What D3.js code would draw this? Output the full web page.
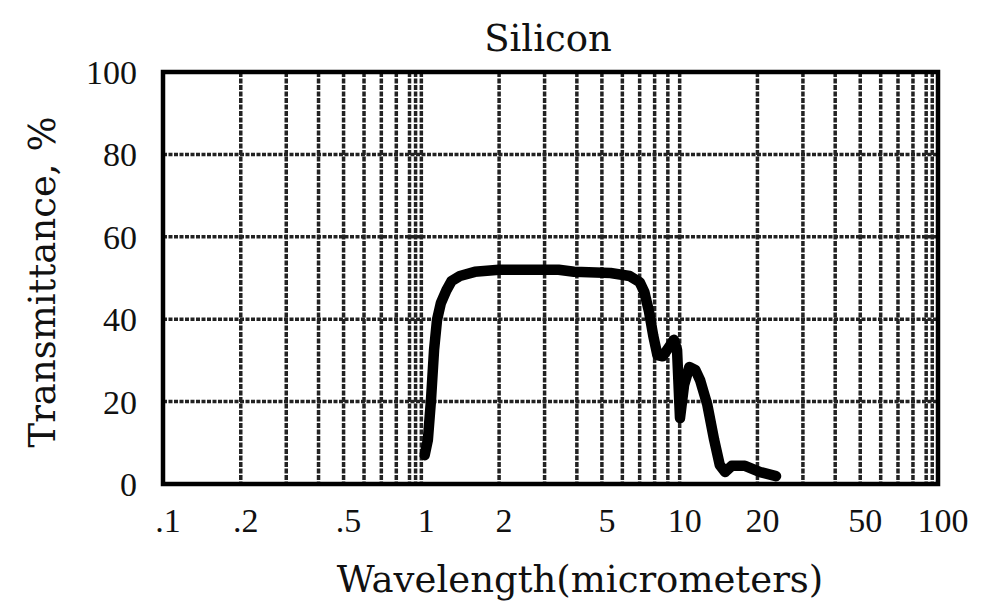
<!DOCTYPE html>
<html>
<head>
<meta charset="utf-8">
<script src="https://cdn.jsdelivr.net/npm/d3@7"></script>
<style>
    body { margin: 0; background: #fff; }
    .tick-label { font-family: "Liberation Serif", serif; font-size: 34px; fill: #111; }
    .axis-title { font-family: "DejaVu Serif", serif; font-size: 37px; fill: #111; }
</style>
</head>
<body>
<div id="chart-area" style="width: 983px; height: 608px;"></div>
<script>
// wavelength in micrometers
const wavelength = [1.03, 1.06, 1.09, 1.12, 1.15, 1.19, 1.25, 1.31, 1.41, 1.61, 2.0, 3.4, 3.9, 5.4, 6.4,
    7.0, 7.3, 7.6, 7.9, 8.2, 8.6, 9.2, 9.5, 9.77, 10.03, 10.4, 10.9, 11.5, 12.0, 12.8, 13.6, 14.3, 15.0,
    15.9, 17.9, 20.5, 23.6];
// transmittance in %
const transmittance = [7, 10.7, 20.4, 32.5, 39.8, 43.9, 47, 49.3, 50.5, 51.5, 52, 52, 51.5, 51.2, 50.5,
    49, 46.6, 42, 36, 31.3, 31, 33.7, 35, 32.5, 16, 24, 28.4, 27.7, 25.2, 19.2, 10.7, 4.6, 2.9,
    4.4, 4.4, 2.9, 1.9];

const xTickValues = [0.1, 0.2, 0.5, 1, 2, 5, 10, 20, 50, 100];
const xTickLabels = [".1", ".2", ".5", "1", "2", "5", "10", "20", "50", "100"];
const yTickValues = [0, 20, 40, 60, 80, 100];
const xGridValues = [0.2, 0.3, 0.4, 0.5, 0.6, 0.7, 0.8, 0.9, 0.95, 1, 2, 3, 4, 5, 6, 7, 8, 9, 10,
    20, 30, 40, 50, 60, 70, 80, 90, 95];
const yGridValues = [20, 40, 60, 80];

class TransmittanceVis {
    constructor(parentElement) {
        this.parentElement = parentElement;
        this.data = wavelength.map((w, i) => ({w: w, t: transmittance[i]}));
        this.initVis();
    }

    initVis() {
        let vis = this;

        vis.margin = {top: 72, right: 45, bottom: 124, left: 163};
        vis.width = 983 - vis.margin.left - vis.margin.right;
        vis.height = 608 - vis.margin.top - vis.margin.bottom;

        vis.svg = d3.select("#" + vis.parentElement).append("svg")
            .attr("width", 983)
            .attr("height", 608);

        vis.g = vis.svg.append("g")
            .attr("transform", `translate(${vis.margin.left}, ${vis.margin.top})`);

        vis.x = d3.scaleLog().domain([0.1, 100]).range([0, vis.width]);
        vis.y = d3.scaleLinear().domain([0, 100]).range([vis.height, 0]);

        // grid, dotted like the scanned graph paper
        vis.g.selectAll("line.vgrid")
            .data(xGridValues)
            .enter()
            .append("line")
            .attr("class", "vgrid")
            .attr("x1", d => vis.x(d))
            .attr("x2", d => vis.x(d))
            .attr("y1", 0)
            .attr("y2", vis.height)
            .attr("stroke", "#222")
            .attr("stroke-width", 3.5)
            .attr("stroke-dasharray", "5,1.5");

        vis.g.selectAll("line.hgrid")
            .data(yGridValues)
            .enter()
            .append("line")
            .attr("class", "hgrid")
            .attr("x1", 0)
            .attr("x2", vis.width)
            .attr("y1", d => vis.y(d))
            .attr("y2", d => vis.y(d))
            .attr("stroke", "#222")
            .attr("stroke-width", 3.5)
            .attr("stroke-dasharray", "4,1.5");

        // frame
        vis.g.append("rect")
            .attr("width", vis.width)
            .attr("height", vis.height)
            .attr("fill", "none")
            .attr("stroke", "#000")
            .attr("stroke-width", 4.5);

        // curve
        vis.line = d3.line()
            .x(d => vis.x(d.w))
            .y(d => vis.y(d.t));

        vis.g.append("path")
            .datum(vis.data)
            .attr("d", vis.line)
            .attr("fill", "none")
            .attr("stroke", "#000")
            .attr("stroke-width", 10.5)
            .attr("stroke-linejoin", "round")
            .attr("stroke-linecap", "round");

        // tick labels
        vis.g.selectAll("text.x-tick")
            .data(xTickValues)
            .enter()
            .append("text")
            .attr("class", "tick-label x-tick")
            .attr("x", d => vis.x(d) + 5)
            .attr("y", vis.height + 48)
            .attr("text-anchor", "middle")
            .text((d, i) => xTickLabels[i]);

        vis.g.selectAll("text.y-tick")
            .data(yTickValues)
            .enter()
            .append("text")
            .attr("class", "tick-label y-tick")
            .attr("x", -26)
            .attr("y", d => vis.y(d))
            .attr("dy", "0.35em")
            .attr("text-anchor", "end")
            .text(d => d);

        // titles
        vis.svg.append("text")
            .attr("class", "axis-title")
            .attr("x", 548)
            .attr("y", 51)
            .attr("text-anchor", "middle")
            .text("Silicon");

        vis.svg.append("text")
            .attr("class", "axis-title")
            .attr("x", 580)
            .attr("y", 592)
            .attr("text-anchor", "middle")
            .text("Wavelength(micrometers)");

        vis.svg.append("text")
            .attr("class", "axis-title")
            .attr("transform", "translate(55, 282) rotate(-90)")
            .attr("text-anchor", "middle")
            .text("Transmittance, %");
    }
}

new TransmittanceVis("chart-area");
</script>
</body>
</html>
